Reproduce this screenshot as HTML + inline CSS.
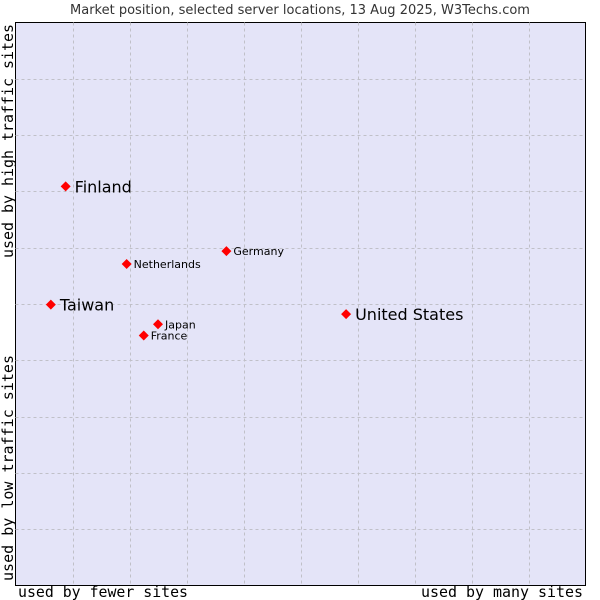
<!DOCTYPE html>
<html><head><meta charset="utf-8"><style>
body{margin:0;background:#fff;}
svg{display:block;}
</style></head><body>
<svg id="chart" width="600" height="600" xmlns="http://www.w3.org/2000/svg">
<text x="300" y="14" text-anchor="middle" font-family="DejaVu Sans, sans-serif" font-size="13" fill="#333">Market position, selected server locations, 13 Aug 2025, W3Techs.com</text>
<rect x="15.5" y="22.5" width="570" height="563" fill="#e4e4f8" stroke="#000" stroke-width="1"/>
<g id="grid"></g>
<g id="points"></g>
<text x="18" y="597" textLength="170" lengthAdjust="spacingAndGlyphs" font-family="DejaVu Sans Mono, Liberation Mono, monospace" font-size="15" fill="#000">used by fewer sites</text>
<text x="421" y="597" textLength="162" lengthAdjust="spacingAndGlyphs" font-family="DejaVu Sans Mono, Liberation Mono, monospace" font-size="15" fill="#000">used by many sites</text>
<text transform="translate(13,581) rotate(-90)" textLength="226" lengthAdjust="spacingAndGlyphs" font-family="DejaVu Sans Mono, Liberation Mono, monospace" font-size="15" fill="#000">used by low traffic sites</text>
<text transform="translate(13,258) rotate(-90)" textLength="234" lengthAdjust="spacingAndGlyphs" font-family="DejaVu Sans Mono, Liberation Mono, monospace" font-size="15" fill="#000">used by high traffic sites</text>
</svg>
<script>
const countries = ["Finland","Netherlands","Germany","Taiwan","Japan","France","United States"];
const xValues = [0.88,1.95,3.7,0.62,2.5,2.25,5.8];
const yValues = [7.09,5.71,5.94,4.99,4.64,4.44,4.82];
const labelSizes = [16,11,11,16,11,11,16];
const xTicks = [1,2,3,4,5,6,7,8,9];
const yTicks = [1,2,3,4,5,6,7,8,9];
const X0=15.5,X1=585.5,Y0=585.5,Y1=22.5;
const sx=v=>X0+(X1-X0)*v/10;
const sy=v=>Y0-(Y0-Y1)*v/10;
const NS="http://www.w3.org/2000/svg";
const grid=document.getElementById('grid');
xTicks.forEach(t=>{const l=document.createElementNS(NS,'line');
l.setAttribute('x1',Math.round(sx(t))+0.5);l.setAttribute('x2',Math.round(sx(t))+0.5);l.setAttribute('y1',Y1);l.setAttribute('y2',Y0);
l.setAttribute('stroke','#c0c0c8');l.setAttribute('stroke-dasharray','3,3');


grid.appendChild(l);});
yTicks.forEach(t=>{const l=document.createElementNS(NS,'line');
l.setAttribute('y1',Math.round(sy(t))+0.5);l.setAttribute('y2',Math.round(sy(t))+0.5);l.setAttribute('x1',X0);l.setAttribute('x2',X1);
l.setAttribute('stroke','#c0c0c8');l.setAttribute('stroke-dasharray','3,3');


grid.appendChild(l);});
const pts=document.getElementById('points');
countries.forEach((c,i)=>{
const x=sx(xValues[i]),y=sy(yValues[i]);
const d=document.createElementNS(NS,'path');
d.setAttribute('d',`M${x-5},${y} L${x},${y-5} L${x+5},${y} L${x},${y+5} Z`);
d.setAttribute('fill','#ff0000');


pts.appendChild(d);
const t=document.createElementNS(NS,'text');
t.setAttribute('x',x+(labelSizes[i]>12?9:7));t.setAttribute('y',y+(labelSizes[i]>12?6:4));
t.setAttribute('font-family','DejaVu Sans, sans-serif');t.setAttribute('font-size',labelSizes[i]);
t.textContent=c;


pts.appendChild(t);
});
</script>
</body></html>
